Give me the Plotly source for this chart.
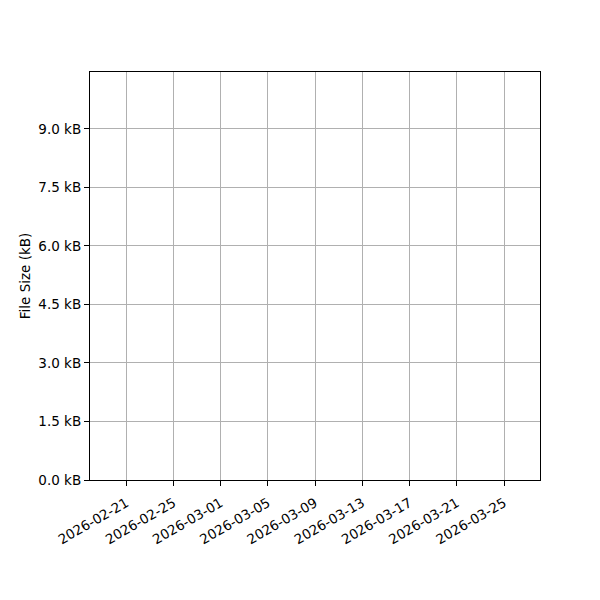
import plotly.graph_objects as go

# no samples ended up in the window, so the series is empty
dates = []
sizes_kb = []

y_ticks = [0.0, 1.5, 3.0, 4.5, 6.0, 7.5, 9.0]
y_labels = [f"{v:.1f} kB" for v in y_ticks]
x_ticks = ["2026-02-21", "2026-02-25", "2026-03-01", "2026-03-05", "2026-03-09",
           "2026-03-13", "2026-03-17", "2026-03-21", "2026-03-25"]

FONT = "DejaVu Sans"
GRID = "#b0b0b0"

fig = go.Figure()
fig.add_trace(go.Scatter(x=dates, y=sizes_kb, mode="lines", line=dict(color="#1f77b4")))

axis_common = dict(
    showline=True, linecolor="black", linewidth=1.2, mirror=True,
    ticks="outside", ticklen=5, tickwidth=1, tickcolor="black",
    showgrid=True, gridcolor=GRID, gridwidth=1, zeroline=False,
    tickfont=dict(family=FONT, size=13.5, color="black"),
)

fig.update_xaxes(
    type="date",
    range=["2026-02-17 22:20", "2026-03-28 01:10"],
    tickvals=x_ticks, ticktext=x_ticks, tickangle=-30,
    ticklabelstandoff=4,
    **axis_common,
)
fig.update_yaxes(
    range=[0, 10.46],
    tickvals=y_ticks, ticktext=y_labels,
    title=dict(text="File Size (kB)", font=dict(family=FONT, size=13.5, color="black"), standoff=4),
    **axis_common,
)

# page body adds an 8px offset, so margins are shifted to compensate
fig.update_layout(
    width=600, height=600,
    margin=dict(l=82, r=68, t=64, b=128),
    plot_bgcolor="white", paper_bgcolor="white",
    showlegend=False,
    font=dict(family=FONT, size=13.5, color="black"),
)

fig.write_html("out.html")
